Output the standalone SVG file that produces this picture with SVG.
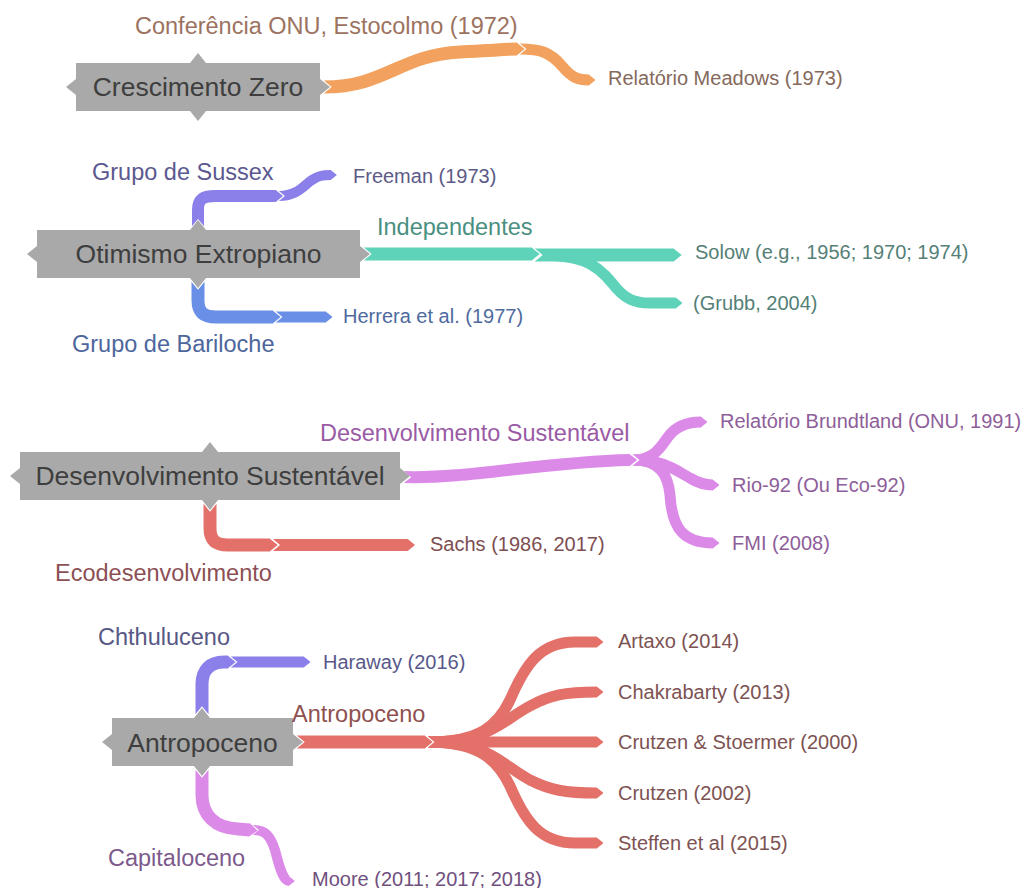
<svg xmlns="http://www.w3.org/2000/svg" width="1034" height="888" viewBox="0 0 1034 888">
<style>
.box{fill:#a9a9a9}
.nt{font-family:"Liberation Sans",Arial,sans-serif;font-size:26.5px;fill:#3e3e3e;text-anchor:middle}
.bl{font-family:"Liberation Sans",Arial,sans-serif;font-size:23.5px}
.lf{font-family:"Liberation Sans",Arial,sans-serif;font-size:20px}
.c path{fill:none;stroke-linecap:butt;marker-start:url(#notch)}
.or{stroke:#f2a25e}.pu{stroke:#8b80ea}.bu{stroke:#6a8fe6}.te{stroke:#5fd3ba}.pk{stroke:#dc8ae8}.rd{stroke:#e4706a}
</style>
<defs>
<marker id="notch" markerUnits="strokeWidth" markerWidth="0.62" markerHeight="1" viewBox="0 0 6.2 10" refX="0.3" refY="5" orient="auto" overflow="visible"><path d="M-1,-1 L6.2,5 L-1,11 Z" fill="#fff"/></marker>
<marker id="t-or" markerUnits="strokeWidth" markerWidth="0.62" markerHeight="1" viewBox="0 0 6.2 10" refX="0.3" refY="5" orient="auto"><path d="M0,0 L6.2,5 L0,10 Z" fill="#f2a25e"/></marker>
<marker id="t-pu" markerUnits="strokeWidth" markerWidth="0.62" markerHeight="1" viewBox="0 0 6.2 10" refX="0.3" refY="5" orient="auto"><path d="M0,0 L6.2,5 L0,10 Z" fill="#8b80ea"/></marker>
<marker id="t-bu" markerUnits="strokeWidth" markerWidth="0.62" markerHeight="1" viewBox="0 0 6.2 10" refX="0.3" refY="5" orient="auto"><path d="M0,0 L6.2,5 L0,10 Z" fill="#6a8fe6"/></marker>
<marker id="t-te" markerUnits="strokeWidth" markerWidth="0.62" markerHeight="1" viewBox="0 0 6.2 10" refX="0.3" refY="5" orient="auto"><path d="M0,0 L6.2,5 L0,10 Z" fill="#5fd3ba"/></marker>
<marker id="t-pk" markerUnits="strokeWidth" markerWidth="0.62" markerHeight="1" viewBox="0 0 6.2 10" refX="0.3" refY="5" orient="auto"><path d="M0,0 L6.2,5 L0,10 Z" fill="#dc8ae8"/></marker>
<marker id="t-rd" markerUnits="strokeWidth" markerWidth="0.62" markerHeight="1" viewBox="0 0 6.2 10" refX="0.3" refY="5" orient="auto"><path d="M0,0 L6.2,5 L0,10 Z" fill="#e4706a"/></marker>
</defs>
<rect width="1034" height="888" fill="#fff"/>

<g id="connectors" class="c">
  <!-- leaf segments first -->
  <path class="or" stroke-width="11" marker-end="url(#t-or)" d="M520,49 C540,49 550,52 562,66 C572,78 578,80 589,80"/>
  <path class="pu" stroke-width="10" marker-end="url(#t-pu)" d="M279,196 C298,196 304,185 312,180 C318,176 322,175 331,175"/>
  <path class="bu" stroke-width="11" marker-end="url(#t-bu)" d="M276,317 L326,317"/>
  <path class="te" stroke-width="11" marker-end="url(#t-te)" d="M535,255 C580,255 595,262 612,283 C625,300 635,303 650,303 L676,303"/>
  <path class="te" stroke-width="13" marker-end="url(#t-te)" d="M535,255 L674,255"/>
  <path class="pk" stroke-width="11" marker-end="url(#t-pk)" d="M633,460 C655,460 662,445 668,437 C676,426 688,422 701,422"/>
  <path class="pk" stroke-width="11" marker-end="url(#t-pk)" d="M633,460 C665,460 675,470 690,478 C698,483 705,485 713,485"/>
  <path class="pk" stroke-width="11" marker-end="url(#t-pk)" d="M633,460 C660,460 668,475 670,495 C672,530 685,543 713,543"/>
  <path class="rd" stroke-width="12" marker-end="url(#t-rd)" d="M273,545 L408,545"/>
  <path class="pu" stroke-width="11" marker-end="url(#t-pu)" d="M231,662 L304,662"/>
  <path class="pk" stroke-width="10" marker-end="url(#t-pk)" d="M253,830 C265,830 270,835 275,850 C280,870 284,881 289,881"/>
  <path class="rd" stroke-width="11" marker-end="url(#t-rd)" d="M428,742 C480,742 498,725 510,700 C525,665 540,642 575,642 L597,642"/>
  <path class="rd" stroke-width="11" marker-end="url(#t-rd)" d="M428,742 C490,742 500,722 530,706 C550,695 565,692 597,692"/>
  <path class="rd" stroke-width="11" marker-end="url(#t-rd)" d="M428,742 L597,742"/>
  <path class="rd" stroke-width="11" marker-end="url(#t-rd)" d="M428,742 C490,742 500,764 530,780 C550,790 565,793 597,793"/>
  <path class="rd" stroke-width="11" marker-end="url(#t-rd)" d="M428,742 C480,742 498,761 510,786 C525,821 540,843 575,843 L597,843"/>
  <!-- first segments -->
  <path class="or" stroke-width="13" marker-end="url(#t-or)" d="M324,87 C385,87 400,55 460,52 S505,49 517,49"/>
  <path class="pu" stroke-width="12" marker-end="url(#t-pu)" d="M198,226 L198,210 C198,199 203,196 215,196 L276,196"/>
  <path class="bu" stroke-width="13" marker-end="url(#t-bu)" d="M198,282 L198,300 C198,312 203,317 216,317 L273,317"/>
  <path class="te" stroke-width="13" marker-end="url(#t-te)" d="M364,254 L532,254"/>
  <path class="pk" stroke-width="12" marker-end="url(#t-pk)" d="M404,477 C470,479 540,462 630,460"/>
  <path class="rd" stroke-width="13" marker-end="url(#t-rd)" d="M210,504 L210,528 C210,540 215,545 228,545 L270,545"/>
  <path class="pu" stroke-width="13" marker-end="url(#t-pu)" d="M202,714 L202,684 C202,670 210,662 224,662 L228,662"/>
  <path class="pk" stroke-width="13" marker-end="url(#t-pk)" d="M202,770 L202,795 C202,815 215,828 238,829 L250,830"/>
  <path class="rd" stroke-width="13" marker-end="url(#t-rd)" d="M297,742 L425,742"/>
</g>

<g id="node-crescimento-zero">
  <path class="box" d="M76,63 L190,63 L198,53 L206,63 L320,63 L320,79 L330,87 L320,95 L320,111 L206,111 L198,121 L190,111 L76,111 L76,95 L66,87 L76,79 Z"/>
  <text class="nt" x="198" y="96">Crescimento Zero</text>
</g>
<g id="label-conferencia"><text class="bl" x="135" y="34" fill="#9c7360">Conferência ONU, Estocolmo (1972)</text></g>
<g id="leaf-meadows"><text class="lf" x="608" y="85" fill="#85695c">Relatório Meadows (1973)</text></g>

<g id="node-otimismo">
  <path class="box" d="M37,230 L190,230 L198,220 L206,230 L360,230 L360,246 L370,254 L360,262 L360,278 L206,278 L198,288 L190,278 L37,278 L37,262 L27,254 L37,246 Z"/>
  <text class="nt" x="198.5" y="263">Otimismo Extropiano</text>
</g>
<g id="label-sussex"><text class="bl" x="92" y="180" fill="#5b5890">Grupo de Sussex</text></g>
<g id="leaf-freeman"><text class="lf" x="353" y="183" fill="#5c5a86">Freeman (1973)</text></g>
<g id="label-bariloche"><text class="bl" x="72" y="352" fill="#4d669c">Grupo de Bariloche</text></g>
<g id="leaf-herrera"><text class="lf" x="343" y="323" fill="#4e6a9e">Herrera et al. (1977)</text></g>
<g id="label-independentes"><text class="bl" x="377" y="235" fill="#4a8f80">Independentes</text></g>
<g id="leaf-solow"><text class="lf" x="695" y="259" fill="#557f77">Solow (e.g., 1956; 1970; 1974)</text></g>
<g id="leaf-grubb"><text class="lf" x="693" y="310" fill="#557f77">(Grubb, 2004)</text></g>

<g id="node-desenvolvimento">
  <path class="box" d="M20,452 L202,452 L210,442 L218,452 L400,452 L400,468 L410,476 L400,484 L400,500 L218,500 L210,510 L202,500 L20,500 L20,484 L10,476 L20,468 Z"/>
  <text class="nt" x="210" y="485">Desenvolvimento Sustentável</text>
</g>
<g id="label-desenvolvimento"><text class="bl" x="320" y="441" fill="#9a5aa5">Desenvolvimento Sustentável</text></g>
<g id="leaf-brundtland"><text class="lf" x="720" y="428" fill="#8e5e99">Relatório Brundtland (ONU, 1991)</text></g>
<g id="leaf-rio92"><text class="lf" x="732" y="492" fill="#8e5e99">Rio-92 (Ou Eco-92)</text></g>
<g id="leaf-fmi"><text class="lf" x="732" y="550" fill="#8e5e99">FMI (2008)</text></g>
<g id="label-ecodesenvolvimento"><text class="bl" x="55" y="581" fill="#8c4f55">Ecodesenvolvimento</text></g>
<g id="leaf-sachs"><text class="lf" x="430" y="551" fill="#7d4e52">Sachs (1986, 2017)</text></g>

<g id="node-antropoceno">
  <path class="box" d="M112,718 L194,718 L202,708 L210,718 L293,718 L293,734 L303,742 L293,750 L293,766 L210,766 L202,776 L194,766 L112,766 L112,750 L102,742 L112,734 Z"/>
  <text class="nt" x="202.5" y="752">Antropoceno</text>
</g>
<g id="label-chthuluceno"><text class="bl" x="98" y="645" fill="#585885">Chthuluceno</text></g>
<g id="leaf-haraway"><text class="lf" x="323" y="669" fill="#58588a">Haraway (2016)</text></g>
<g id="label-antropoceno"><text class="bl" x="292" y="722" fill="#8e5050">Antropoceno</text></g>
<g id="leaf-artaxo"><text class="lf" x="618" y="648" fill="#7d5252">Artaxo (2014)</text></g>
<g id="leaf-chakrabarty"><text class="lf" x="618" y="699" fill="#7d5252">Chakrabarty (2013)</text></g>
<g id="leaf-crutzen-stoermer"><text class="lf" x="618" y="749" fill="#7d5252">Crutzen &amp; Stoermer (2000)</text></g>
<g id="leaf-crutzen"><text class="lf" x="618" y="800" fill="#7d5252">Crutzen (2002)</text></g>
<g id="leaf-steffen"><text class="lf" x="618" y="850" fill="#7d5252">Steffen et al (2015)</text></g>
<g id="label-capitaloceno"><text class="bl" x="108" y="866" fill="#7d5a8c">Capitaloceno</text></g>
<g id="leaf-moore"><text class="lf" x="312" y="886" fill="#70507e">Moore (2011; 2017; 2018)</text></g>
</svg>
